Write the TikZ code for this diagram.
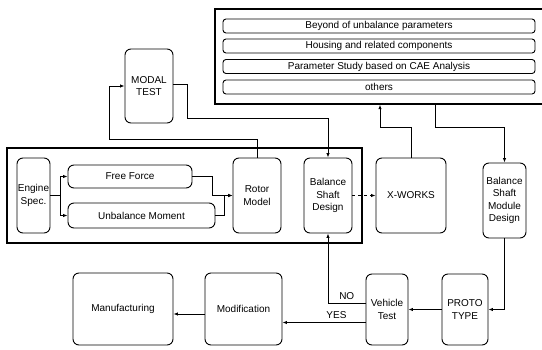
\documentclass[tikz,border=0pt]{standalone}
\usepackage{fontspec}
\setmainfont{Liberation Sans}
\usetikzlibrary{arrows.meta}

\tikzset{
  blk/.style={draw, rounded corners=6pt, line width=0.9pt, align=center, inner sep=0pt},
  row/.style={draw, rounded corners=3pt, line width=0.9pt, minimum width=312pt, minimum height=14pt, inner sep=0pt},
  frm/.style={draw, line width=1.4pt, inner sep=0pt},
  arr/.style={-{Latex[length=4.5pt,width=3.5pt]}, line width=0.8pt}
}

\begin{document}
\begin{tikzpicture}[x=1pt, y=-1pt, font=\fontsize{10}{12.5}\selectfont]
  \useasboundingbox (0,0) rectangle (542,349);
  % top right frame with the study items (runs off the right edge)
  \node[frm, minimum width=345pt, minimum height=95pt] (params) at (387.5,56.5) {};
  \node[row] (beyond) at (379,26) {Beyond of unbalance parameters};
  \node[row] (housing) at (379,46) {Housing and related components};
  \node[row] (study) at (379,66.5) {Parameter Study based on CAE Analysis};
  \node[row] (others) at (379,87) {others};

  % main frame round the design loop
  \node[frm, minimum width=355pt, minimum height=95pt] (loop) at (184.5,195.5) {};

  \node[blk, minimum width=48pt, minimum height=74pt] (modal) at (149,86) {MODAL\\TEST};
  \node[blk, minimum width=33pt, minimum height=75pt] (engine) at (33.5,195.5) {Engine\\Spec.};
  \node[blk, minimum width=124pt, minimum height=23pt] (free) at (130,176.5) {Free Force};
  \node[blk, minimum width=147pt, minimum height=25pt] (unbal) at (141.5,215.5) {Unbalance Moment};
  \node[blk, minimum width=48pt, minimum height=75pt] (rotor) at (257,195.5) {Rotor\\Model};
  \node[blk, minimum width=48pt, minimum height=75pt] (bsd) at (328,195.5) {Balance\\Shaft\\Design};
  \node[blk, minimum width=70pt, minimum height=75pt] (xworks) at (411,195.5) {X-WORKS};
  \node[blk, minimum width=43pt, minimum height=75pt] (bsmd) at (504.5,200.5) {Balance\\Shaft\\Module\\Design};
  \node[blk, minimum width=46pt, minimum height=71pt] (proto) at (465,309.5) {PROTO\\TYPE};
  \node[blk, minimum width=42pt, minimum height=71pt] (vehicle) at (387,309.5) {Vehicle\\Test};
  \node[blk, minimum width=77pt, minimum height=72pt] (modif) at (243.5,309) {Modification};
  \node[blk, minimum width=100pt, minimum height=72pt] (manuf) at (123,309) {Manufacturing};

  % engine spec splits to the two loads
  \draw[line width=0.8pt] (engine.east) -- ++(10,0) coordinate (split);
  \draw[arr] (split) |- (free.west);
  \draw[arr] (split) |- (unbal.west);
  % loads join into the rotor model
  \draw[arr] (free.east) -- ++(20,0) |- (rotor.west);
  \draw[arr] (unbal.east) -- ++(9,0) |- (rotor.west);
  % rotor model to modal test and back to the design
  \draw[arr] (rotor.north) -- ++(0,-18) -| ([xshift=-15pt]modal.west) -- (modal.west);
  \draw[arr] ([yshift=2pt]modal.east) -- ++(14,0) -- ++(0,34) -| (bsd.north);
  \draw[arr, dashed] (bsd.east) -- (bsd.east -| xworks.west);
  % x-works up to the study items, then down to the module design
  \draw[arr] (xworks.north) -- ++(0,-30) -| ([xshift=-7.5pt]params.south);
  \draw[arr] ([xshift=47.5pt]params.south) -- ++(0,23) -| (bsmd.north);
  \draw[arr] (bsmd.south) |- (proto.east);
  \draw[arr] (proto.west) -- (vehicle.east);
  % vehicle test decides
  \draw[arr] ([yshift=6pt]vehicle.west) -| (bsd.south) node[pos=0.25, above] {NO};
  \draw[arr] ([yshift=-13pt]vehicle.west) coordinate (yes) -- (yes -| modif.east) node[pos=0.35, above] {YES};
  \draw[arr] ([yshift=-5pt]modif.west) coordinate (made) -- (made -| manuf.east);
\end{tikzpicture}
\end{document}
